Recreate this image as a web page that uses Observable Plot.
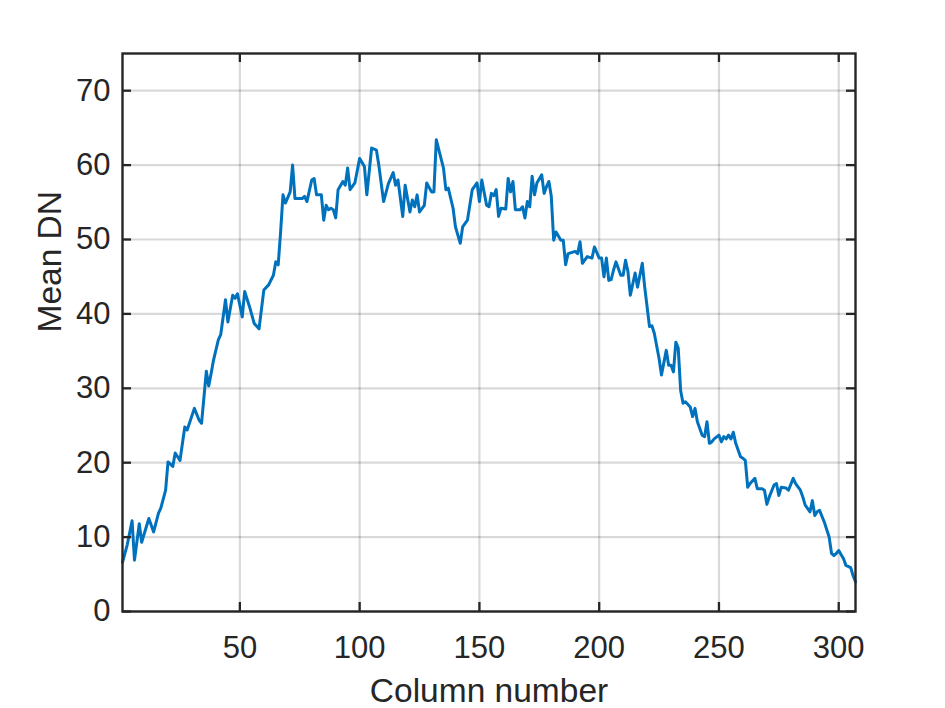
<!DOCTYPE html>
<html>
<head>
<meta charset="utf-8">
<script src="https://cdn.jsdelivr.net/npm/d3@7"></script>
<script src="https://cdn.jsdelivr.net/npm/@observablehq/plot@0.6"></script>
<style>
  html, body { margin: 0; padding: 0; background: #fff; }
  #chart svg { display: block; }
</style>
</head>
<body>
<div id="chart"></div>
<script>
const cols = [1,3,5,6,8,9,12,14,16,17,19,20,22,23,25,27,28,31,33,34,36,37,38,39,41,42,44,45,47,48,49,51,52,54,56,58,60,62,64,65,66,67,68,69,71,72,73,76,77,78,80,81,82,84,85,86,87,88,89,90,91,93,94,95,96,98,100,102,103,105,107,108,110,112,114,115,116,118,119,121,122,123,124,125,127,128,130,131,132,135,136,137,139,140,142,143,145,147,149,150,151,153,154,155,156,157,158,159,161,162,163,164,165,167,168,169,170,171,172,173,174,176,177,178,179,180,181,182,184,185,186,187,190,191,192,193,195,197,198,200,201,202,203,204,205,206,207,209,210,211,212,213,215,216,218,219,221,222,223,225,226,228,229,230,231,232,233,234,235,236,238,239,240,241,243,244,245,246,247,248,250,251,252,253,254,255,256,257,259,260,261,262,263,265,266,268,269,270,271,273,274,275,276,278,279,281,282,284,285,286,288,289,290,291,292,294,296,297,298,299,300,302,303,305,306,307];
const meanDN = [6.6,9.0,12.2,6.9,11.8,9.3,12.5,10.7,13.2,13.9,16.3,20.1,19.5,21.3,20.3,24.8,24.4,27.3,25.7,25.3,32.3,30.3,32.0,33.8,36.5,37.2,41.9,38.9,42.5,42.1,42.7,39.6,43.0,41.0,38.7,38.0,43.2,43.9,45.2,47.0,46.6,51.0,56.0,54.9,56.4,60.0,55.5,55.5,55.8,55.1,58.0,58.2,56.0,56.0,52.6,54.6,54.0,54.2,54.0,52.9,56.7,57.8,57.3,59.6,56.7,57.6,60.9,59.8,56.0,62.3,62.0,60.0,55.1,57.5,59.0,57.3,58.0,53.1,57.3,53.7,55.3,54.4,56.0,53.7,54.6,57.6,56.4,56.4,63.4,59.6,56.7,56.9,54.2,51.7,49.5,51.7,52.6,56.7,57.6,55.1,58.0,54.6,54.4,56.2,55.9,56.7,53.1,54.2,54.1,58.2,56.4,57.8,54.0,54.0,54.4,52.9,55.1,54.4,58.5,56.0,57.6,58.7,56.2,57.1,57.8,55.8,49.9,51.0,49.9,49.9,46.6,48.1,48.4,48.1,49.7,46.8,47.7,47.5,49.0,47.5,47.5,45.0,47.5,44.5,44.6,45.9,47.0,45.2,45.2,47.2,45.7,42.5,45.5,43.6,46.8,43.6,38.3,38.4,37.4,34.0,31.8,35.1,33.1,33.1,32.2,36.2,35.4,29.7,28.0,28.2,27.5,26.2,27.3,25.5,23.7,23.5,25.5,22.6,22.8,23.2,23.7,22.8,23.5,23.2,23.7,23.2,24.1,22.6,20.8,20.6,20.3,16.7,17.2,17.9,16.5,16.5,16.3,14.4,15.4,17.0,17.2,15.6,16.7,16.6,16.3,17.9,17.2,16.3,15.4,14.3,13.4,14.9,12.9,13.4,13.6,12.0,10.0,7.8,7.5,7.8,8.2,7.1,6.2,5.9,4.8,4.0];
const xTicks = [50,100,150,200,250,300];
const yTicks = [0,10,20,30,40,50,60,70];
const xLabel = "Column number";
const yLabel = "Mean DN";

const data = cols.map((c, i) => ({col: c, dn: meanDN[i]}));

const W = 945, H = 708;
const mL = 122, mR = 90, mT = 53, mB = 97;
const plotW = W - mL - mR, plotH = H - mT - mB;
const ink = "#262626";

const chart = Plot.plot({
  width: W,
  height: H,
  marginLeft: mL,
  marginRight: mR,
  marginTop: mT,
  marginBottom: mB,
  style: {fontFamily: "'Liberation Sans', Arial, Helvetica, sans-serif", color: ink, background: "#fff"},
  x: {domain: [1, 307]},
  y: {domain: [0, 75]},
  marks: [
    Plot.ruleX(xTicks, {stroke: "#000", strokeOpacity: 0.15, strokeWidth: 2.2}),
    Plot.ruleY(yTicks, {stroke: "#000", strokeOpacity: 0.15, strokeWidth: 2.2}),
    Plot.line(data, {x: "col", y: "dn", stroke: "#0072BD", strokeWidth: 3, strokeLinejoin: "round"}),
    // inward ticks
    Plot.ruleX(xTicks, {stroke: ink, strokeWidth: 2.3, insetTop: plotH - 9}),
    Plot.ruleX(xTicks, {stroke: ink, strokeWidth: 2.3, insetBottom: plotH - 9}),
    Plot.ruleY(yTicks, {stroke: ink, strokeWidth: 2.3, insetRight: plotW - 9}),
    Plot.ruleY(yTicks, {stroke: ink, strokeWidth: 2.3, insetLeft: plotW - 9}),
    Plot.frame({stroke: ink, strokeWidth: 2.4}),
    Plot.axisX({ticks: xTicks, tickSize: 0, tickPadding: 24, fontSize: 31, label: null, fill: ink}),
    Plot.axisY({ticks: yTicks, tickSize: 0, tickPadding: 12, fontSize: 31, label: null, fill: ink}),
    Plot.text([xLabel], {frameAnchor: "bottom", dy: 90, lineAnchor: "bottom", fontSize: 33.5, fill: ink}),
    Plot.text([yLabel], {frameAnchor: "left", dx: -62, rotate: -90, lineAnchor: "bottom", fontSize: 33.5, fill: ink})
  ]
});
document.getElementById("chart").appendChild(chart);
</script>
</body>
</html>
